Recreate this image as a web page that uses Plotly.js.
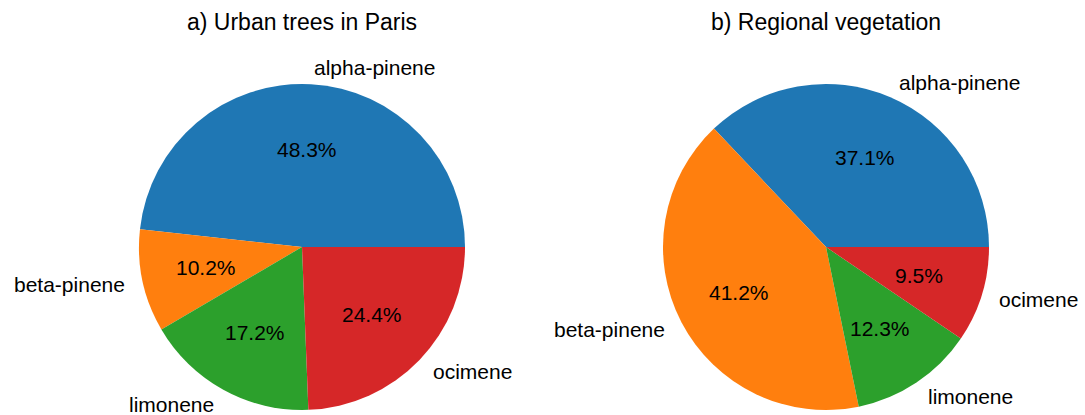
<!DOCTYPE html>
<html>
<head>
<meta charset="utf-8">
<script src="https://cdn.plot.ly/plotly-3.0.1.min.js"></script>
<style>html,body{margin:0;padding:0;background:#fff;}#chart{width:1085px;height:415px;}</style>
</head>
<body>
<div id="chart"></div>
<script>
// ---- data ----
const compounds = ["alpha-pinene", "beta-pinene", "limonene", "ocimene"];
const parisValues = [48.3, 10.2, 17.2, 24.4];
const regionalValues = [37.1, 41.2, 12.3, 9.5];
const titles = ["a) Urban trees in Paris", "b) Regional vegetation"];
const colors = ["#1f77b4", "#ff7f0e", "#2ca02c", "#d62728"];

// ---- layout geometry (pixels) ----
const W = 1085, H = 415;
const R = 163;
const centers = [[302, 247], [826, 247]];
const FONT = "Liberation Sans, Arial, Helvetica, sans-serif";

function px2x(px) { return px / W; }
function px2y(py) { return 1 - py / H; }

const datasets = [parisValues, regionalValues];
const traces = [];
const annotations = [];

datasets.forEach((vals, k) => {
  const [cx, cy] = centers[k];
  const total = vals.reduce((a, b) => a + b, 0);
  // plotly counterclockwise: first slice spans [rotation, rotation + a0] (clockwise from top);
  // shift so that the first slice starts at 3 o'clock and runs counterclockwise
  const rot = 90 - 360 * vals[0] / total;
  traces.push({
    type: "pie",
    labels: compounds,
    values: vals,
    sort: false,
    direction: "counterclockwise",
    rotation: rot,
    marker: {colors: colors, line: {width: 0}},
    textinfo: "none",
    hoverinfo: "none",
    showlegend: false,
    domain: {x: [px2x(cx - R), px2x(cx + R)], y: [px2y(cy + R), px2y(cy - R)]}
  });
  // labels and percentages, placed like matplotlib (1.1 r and 0.6 r)
  let start = 0;
  vals.forEach((v, i) => {
    const frac = v / total;
    const mid = (start + frac / 2) * 2 * Math.PI;
    start += frac;
    const c = Math.cos(mid), s = Math.sin(mid);
    annotations.push({
      xref: "paper", yref: "paper",
      x: px2x(cx + 1.1 * R * c), y: px2y(cy - 1.1 * R * s),
      xanchor: c > 0 ? "left" : "right", yanchor: "middle",
      text: compounds[i], showarrow: false,
      font: {family: FONT, size: 21, color: "#000"}
    });
    annotations.push({
      xref: "paper", yref: "paper",
      x: px2x(cx + 0.6 * R * c), y: px2y(cy - 0.6 * R * s),
      xanchor: "center", yanchor: "middle",
      text: (frac * 100).toFixed(1) + "%", showarrow: false,
      font: {family: FONT, size: 21, color: "#000"}
    });
  });
  annotations.push({
    xref: "paper", yref: "paper",
    x: px2x(cx), y: px2y(22),
    xanchor: "center", yanchor: "middle",
    text: titles[k], showarrow: false,
    font: {family: FONT, size: 23, color: "#000"}
  });
});

const layout = {
  width: W, height: H,
  margin: {l: 0, r: 0, t: 0, b: 0},
  paper_bgcolor: "#fff",
  plot_bgcolor: "#fff",
  annotations: annotations
};

Plotly.newPlot("chart", traces, layout, {displayModeBar: false, staticPlot: true});
</script>
</body>
</html>
